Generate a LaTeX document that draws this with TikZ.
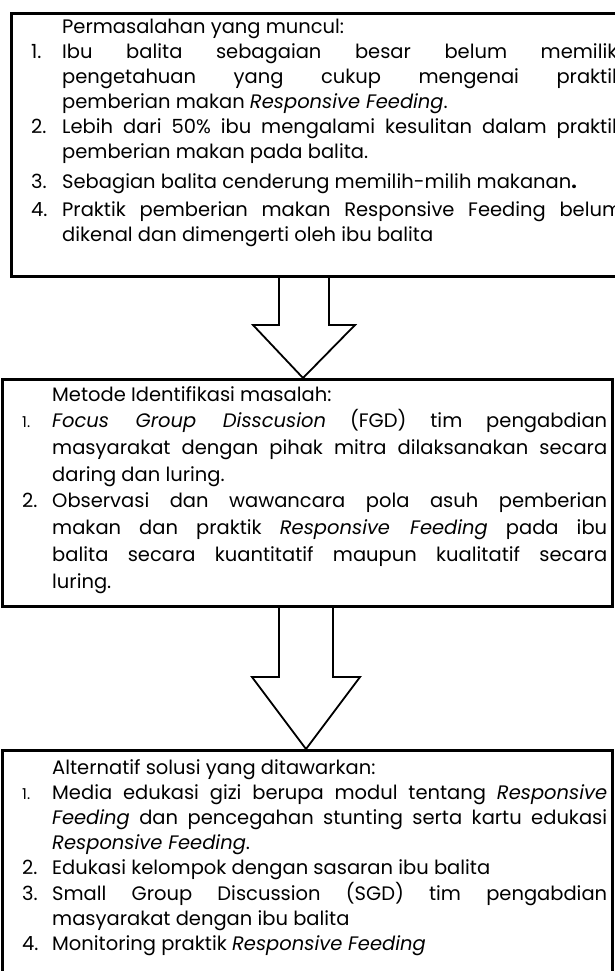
\documentclass[tikz,border=0pt]{standalone}
\usepackage{fontspec}
\setmainfont{Poppins}
\usetikzlibrary{positioning, calc}

% item number column and justified lines
\newlength{\linew}
\newcommand{\itemno}[1]{\makebox[31pt][l]{#1}}
\newcommand{\fullline}[1]{\makebox[\linew][s]{#1}}
\newcommand{\smallno}[1]{\makebox[30pt][l]{\fontsize{15}{15}\selectfont #1}}
\newcommand{\bigno}[1]{\makebox[30pt][l]{#1}}

\begin{document}
\begin{tikzpicture}[x=1pt, y=-1pt,
  panel/.style={draw, line width=2.6pt, rectangle, inner sep=0pt, anchor=north west},
  listtext/.style={anchor=north west, inner sep=0pt, align=left},
  hollow/.style={draw, line width=1.8pt, line join=miter}]

\useasboundingbox (0,0) rectangle (614,971);

% -- Boxes ------------------------------------------------------------------
\node[panel, minimum width=624, minimum height=263] (masalah) at (10,12) {};
\node[panel, minimum width=610, minimum height=227] (metode) at (1,378) {};
\node[panel, minimum width=610, minimum height=260] (solusi) at (1,749) {};

% -- Problems ---------------------------------------------------------------
\setlength{\linew}{560pt}
\node[listtext, font=\fontsize{19.5}{25}\selectfont] (masalahtxt) at (31,19) {%
  \itemno{}Permasalahan yang muncul:\\
  \itemno{1.}\fullline{Ibu balita sebagaian besar belum memiliki}\\
  \itemno{}\fullline{pengetahuan yang cukup mengenai praktik}\\
  \itemno{}pemberian makan \textit{Responsive Feeding}.\\
  \itemno{2.}\fullline{Lebih dari 50\% ibu mengalami kesulitan dalam praktik}\\
  \itemno{}pemberian makan pada balita.\\[5pt]
  \itemno{3.}Sebagian balita cenderung memilih-milih makanan\textbf{.}\\[3pt]
  \itemno{4.}\fullline{Praktik pemberian makan Responsive Feeding belum}\\
  \itemno{}dikenal dan dimengerti oleh ibu balita};

% -- Identification method --------------------------------------------------
\setlength{\linew}{555pt}
\node[listtext, font=\fontsize{19.5}{26.7}\selectfont] (metodetxt) at (22,386) {%
  \bigno{}Metode Identifikasi masalah:\\
  \smallno{1.}\fullline{\textit{Focus Group Disscusion} (FGD) tim pengabdian}\\
  \bigno{}\fullline{masyarakat dengan pihak mitra dilaksanakan secara}\\
  \bigno{}daring dan luring.\\
  \bigno{2.}\fullline{Observasi dan wawancara pola asuh pemberian}\\
  \bigno{}\fullline{makan dan praktik \textit{Responsive Feeding} pada ibu}\\
  \bigno{}\fullline{balita secara kuantitatif maupun kualitatif secara}\\
  \bigno{}luring.};

% -- Offered solutions ------------------------------------------------------
\node[listtext, font=\fontsize{19.5}{25.2}\selectfont] (solusitxt) at (22,759) {%
  \bigno{}Alternatif solusi yang ditawarkan:\\
  \smallno{1.}\fullline{Media edukasi gizi berupa modul tentang \textit{Responsive}}\\
  \bigno{}\fullline{\textit{Feeding} dan pencegahan stunting serta kartu edukasi}\\
  \bigno{}\textit{Responsive Feeding}.\\
  \bigno{2.}Edukasi kelompok dengan sasaran ibu balita\\
  \bigno{3.}\fullline{Small Group Discussion (SGD) tim pengabdian}\\
  \bigno{}masyarakat dengan ibu balita\\
  \bigno{4.}Monitoring praktik \textit{Responsive Feeding}};

% -- Block arrows -----------------------------------------------------------
\draw[hollow] (279,0 |- masalah.south) -- (279,325) -- (253,325)
  -- (303,0 |- metode.north) -- (355,325) -- (329,325) -- (329,0 |- masalah.south);
\draw[hollow] (279,0 |- metode.south) -- (279,677) -- (252,677)
  -- (306,0 |- solusi.north) -- (360,677) -- (333,677) -- (333,0 |- metode.south);

\end{tikzpicture}
\end{document}
